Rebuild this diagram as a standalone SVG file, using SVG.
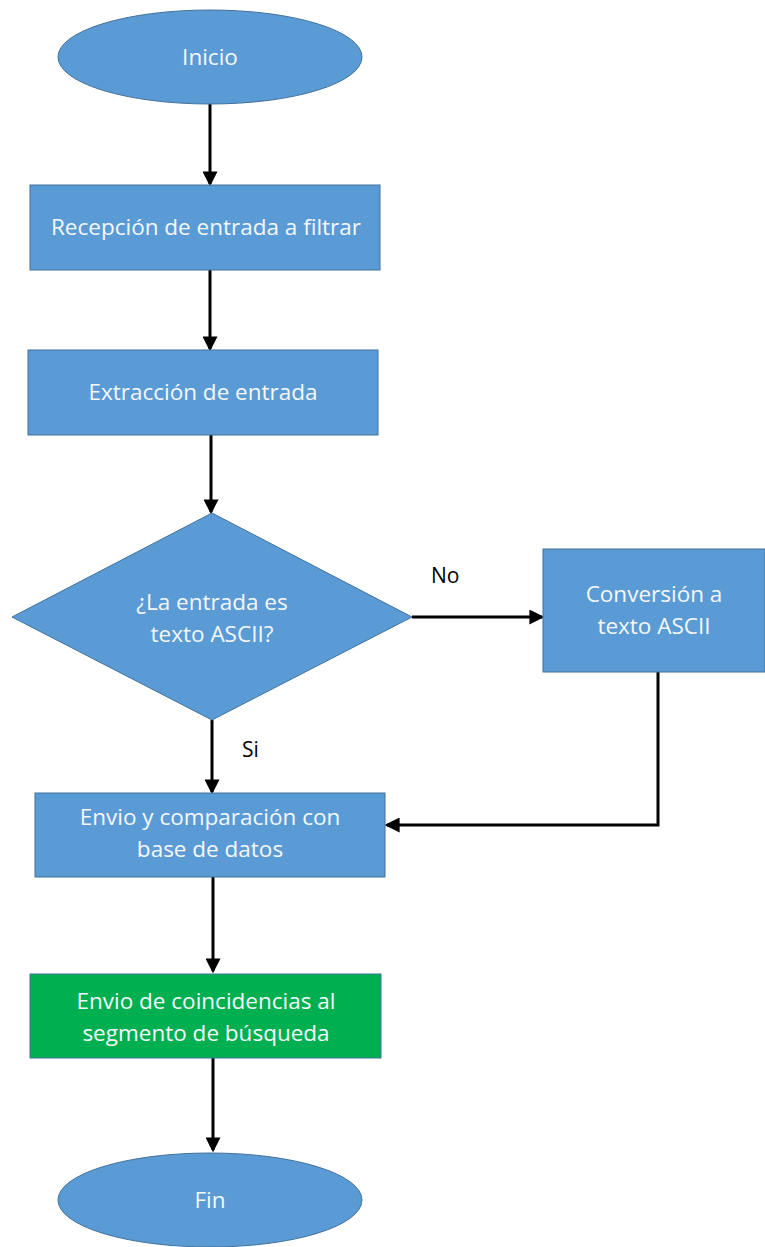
<svg xmlns="http://www.w3.org/2000/svg" width="765" height="1247" viewBox="0 0 765 1247">
  <style>
    .shape { fill: #5B9BD5; stroke: #41719C; stroke-width: 1; }
    .green { fill: #00B050; stroke: #41719C; stroke-width: 1; }
    .label { font-family: "Open Sans", "Liberation Sans", Arial, sans-serif; font-size: 22.5px; fill: #F4F8FC; text-anchor: middle; }
    .edge-label { font-family: "Open Sans", "Liberation Sans", Arial, sans-serif; font-size: 21px; fill: #000000; }
    .conn { fill: none; stroke: #000000; stroke-width: 3; }
  </style>
  <defs>
    <marker id="arrow" markerWidth="5" markerHeight="5" refX="4.2" refY="2.5" orient="auto" markerUnits="strokeWidth">
      <path d="M0,0 L5,2.5 L0,5 Z" fill="#000000"/>
    </marker>
  </defs>
  <rect width="765" height="1247" fill="#FFFFFF"/>

  <!-- connectors -->
  <g id="connectors">
    <line class="conn" x1="210" y1="104" x2="210" y2="184" marker-end="url(#arrow)"/>
    <line class="conn" x1="210" y1="270" x2="210" y2="349" marker-end="url(#arrow)"/>
    <line class="conn" x1="211" y1="435" x2="211" y2="512" marker-end="url(#arrow)"/>
    <line class="conn" x1="412" y1="617" x2="542" y2="617" marker-end="url(#arrow)"/>
    <line class="conn" x1="212" y1="720" x2="212" y2="792" marker-end="url(#arrow)"/>
    <path class="conn" d="M658,672 L658,825 L387,825" marker-end="url(#arrow)"/>
    <line class="conn" x1="213" y1="877" x2="213" y2="971" marker-end="url(#arrow)"/>
    <line class="conn" x1="213" y1="1058" x2="213" y2="1150" marker-end="url(#arrow)"/>
    <text class="edge-label" x="431" y="583">No</text>
    <text class="edge-label" x="242" y="757">Si</text>
  </g>

  <g id="inicio">
    <ellipse class="shape" cx="210" cy="57" rx="152" ry="47"/>
    <text class="label" x="210" y="65">Inicio</text>
  </g>

  <g id="recepcion">
    <rect class="shape" x="30" y="185" width="350" height="85"/>
    <text class="label" x="206" y="235">Recepción de entrada a filtrar</text>
  </g>

  <g id="extraccion">
    <rect class="shape" x="28" y="350" width="350" height="85"/>
    <text class="label" x="203" y="400">Extracción de entrada</text>
  </g>

  <g id="decision">
    <polygon class="shape" points="212,513 412,617 212,720 12,617"/>
    <text class="label" x="212" y="610">¿La entrada es</text>
    <text class="label" x="212" y="642">texto ASCII?</text>
  </g>

  <g id="conversion">
    <rect class="shape" x="543" y="549" width="222" height="123"/>
    <text class="label" x="654" y="602">Conversión a</text>
    <text class="label" x="654" y="634">texto ASCII</text>
  </g>

  <g id="envio">
    <rect class="shape" x="35" y="793" width="350" height="84"/>
    <text class="label" x="210" y="825">Envio y comparación con</text>
    <text class="label" x="210" y="857">base de datos</text>
  </g>

  <g id="coincidencias">
    <rect class="green" x="30" y="974" width="351" height="84"/>
    <text class="label" x="206" y="1009">Envio de coincidencias al</text>
    <text class="label" x="206" y="1041">segmento de búsqueda</text>
  </g>

  <g id="fin">
    <ellipse class="shape" cx="210" cy="1200" rx="152" ry="47"/>
    <text class="label" x="210" y="1208">Fin</text>
  </g>
</svg>
